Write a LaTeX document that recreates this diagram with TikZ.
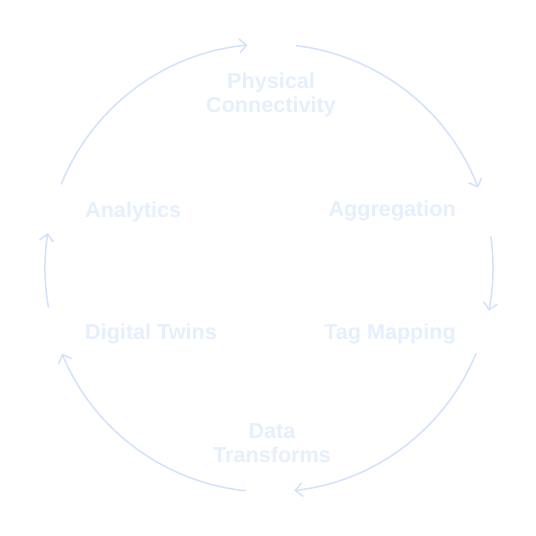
\documentclass[tikz,border=0pt]{standalone}
\usepackage{fontspec}
\setmainfont{Liberation Sans}
\usetikzlibrary{arrows.meta}
\definecolor{lbl}{HTML}{E6EFFC}
\definecolor{arcc}{HTML}{D3E2FB}
\begin{document}
\begin{tikzpicture}[x=1pt,y=1pt,
  lab/.style={text=lbl,font=\fontsize{21.6}{24}\selectfont\bfseries,inner sep=0pt,align=center},
  flow/.style={draw=arcc,line width=1.5pt,line cap=round,-{Straight Barb[length=7pt,width=14pt,line width=1.5pt]}}]
\fill[white] (0,0) rectangle (536,536);
\useasboundingbox (0,0) rectangle (536,536);
\coordinate (c) at (269,268);
\node[lab,anchor=base] (phys) at (271,447) {Physical};
\node[lab,anchor=base] (conn) at (271,423) {Connectivity};
\node[lab,anchor=base east] (agg) at (456,319.5) {Aggregation};
\node[lab,anchor=base east] (tag) at (456,196.5) {Tag Mapping};
\node[lab,anchor=base] (data) at (272,97) {Data};
\node[lab,anchor=base] (trans) at (272,73) {Transforms};
\node[lab,anchor=base west] (twin) at (85,196.5) {Digital Twins};
\node[lab,anchor=base west] (ana) at (85,318.5) {Analytics};
\draw[flow] ([shift={(158:224)}]c) arc[start angle=158,end angle=95.5,radius=224];
\draw[flow] ([shift={(83:224)}]c) arc[start angle=83,end angle=21,radius=224];
\draw[flow] ([shift={(8:224)}]c) arc[start angle=8,end angle=-11,radius=224];
\draw[flow] ([shift={(-22.5:224)}]c) arc[start angle=-22.5,end angle=-83.5,radius=224];
\draw[flow] ([shift={(-96:224)}]c) arc[start angle=-96,end angle=-157.5,radius=224];
\draw[flow] ([shift={(190:224)}]c) arc[start angle=190,end angle=171,radius=224];
\end{tikzpicture}
\end{document}
